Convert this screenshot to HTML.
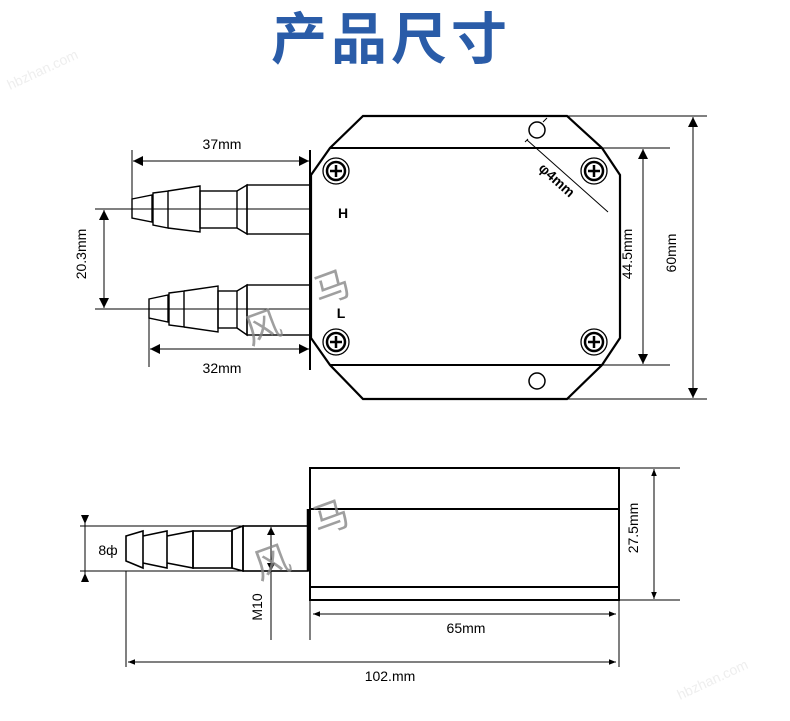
<!DOCTYPE html>
<html><head><meta charset="utf-8"><style>
html,body{margin:0;padding:0;background:#fff;}
svg{display:block;}
text{font-family:"Liberation Sans","Noto Sans CJK SC",sans-serif;}
</style></head><body>
<svg width="790" height="721" viewBox="0 0 790 721" xmlns="http://www.w3.org/2000/svg">
<defs>
<marker id="a" viewBox="0 0 10 10" refX="10" refY="5" markerWidth="10" markerHeight="10" markerUnits="userSpaceOnUse" orient="auto-start-reverse"><path d="M0,0 L10,5 L0,10 z" fill="#000"/></marker>
<marker id="s" viewBox="0 0 10 10" refX="10" refY="5" markerWidth="7" markerHeight="7" markerUnits="userSpaceOnUse" orient="auto-start-reverse"><path d="M0,1 L10,5 L0,9 z" fill="#000"/></marker>
</defs>
<text x="391" y="59" font-size="56" font-weight="bold" fill="#2a5ca8" text-anchor="middle" letter-spacing="4" font-family="Noto Sans CJK SC, sans-serif">产品尺寸</text>

<!-- watermarks -->
<g fill="#eee" font-size="14" font-family="Liberation Sans,sans-serif">
<text x="10" y="90" transform="rotate(-25 10 90)">hbzhan.com</text>
<text x="680" y="700" transform="rotate(-25 680 700)">hbzhan.com</text>
</g>

<g stroke="#000" fill="none">
<!-- top view body -->
<path d="M363,116 L567,116 L602,148 L620,175 L620,338 L602,365 L567,399 L363,399 L330,365 L311,338 L311,175 L330,148 Z" stroke-width="2.2"/>
<line x1="330" y1="148" x2="602" y2="148" stroke-width="2"/>
<line x1="330" y1="365" x2="602" y2="365" stroke-width="2"/>
<g stroke-width="1.3">
<circle cx="336" cy="171" r="13"/><circle cx="594" cy="171" r="13"/>
<circle cx="336" cy="342" r="13"/><circle cx="594" cy="342" r="13"/>
</g>
<g stroke-width="2.5">
<circle cx="336" cy="171" r="9"/><circle cx="594" cy="171" r="9"/>
<circle cx="336" cy="342" r="9"/><circle cx="594" cy="342" r="9"/>
<path d="M330,171h12M336,165v12M588,171h12M594,165v12M330,342h12M336,336v12M588,342h12M594,336v12"/>
</g>
<circle cx="537" cy="130" r="8" stroke-width="1.5"/>
<circle cx="537" cy="381" r="8" stroke-width="1.5"/>
<line x1="527" y1="140" x2="608" y2="212" stroke-width="1"/>
<path d="M543,122 l4,-4 M528,139 l-3,3" stroke-width="1"/>

<!-- 44.5 / 60 dims -->
<g stroke-width="1">
<line x1="602" y1="148" x2="670" y2="148"/><line x1="602" y1="365" x2="670" y2="365"/>
<line x1="567" y1="116" x2="707" y2="116"/><line x1="567" y1="399" x2="707" y2="399"/>
<line x1="643" y1="149" x2="643" y2="364" marker-start="url(#a)" marker-end="url(#a)"/>
<line x1="693" y1="117" x2="693" y2="398" marker-start="url(#a)" marker-end="url(#a)"/>
</g>

<!-- top fitting H -->
<g stroke-width="1.4">
<path d="M132,199 L152,195 L152,222 L132,218 Z"/>
<path d="M153,193 L168,191 L168,228 L153,225 Z"/>
<path d="M168,191 L200,186 L200,232 L168,228"/>
<rect x="200" y="191" width="37" height="37"/>
<path d="M237,191 L247,185 L247,234 L237,228"/>
<rect x="247" y="185" width="63" height="49"/>
</g>
<line x1="310" y1="150" x2="310" y2="370" stroke-width="2"/>
<!-- bottom fitting L -->
<g stroke-width="1.4">
<path d="M149,299 L168,295 L168,322 L149,318 Z"/>
<path d="M169,293 L184,291 L184,327 L169,325 Z"/>
<path d="M184,291 L218,286 L218,332 L184,327"/>
<rect x="218" y="291" width="19" height="37"/>
<path d="M237,291 L247,285 L247,335 L237,328"/>
<rect x="247" y="285" width="63" height="50"/>
</g>
<g stroke-width="1">
<line x1="95" y1="209" x2="310" y2="209"/>
<line x1="95" y1="309" x2="310" y2="309"/>
<line x1="104" y1="210" x2="104" y2="308" marker-start="url(#a)" marker-end="url(#a)"/>
<line x1="132" y1="150" x2="132" y2="218"/>
<line x1="133" y1="161" x2="309" y2="161" marker-start="url(#a)" marker-end="url(#a)"/>
<line x1="149" y1="299" x2="149" y2="367"/>
<line x1="150" y1="349" x2="309" y2="349" marker-start="url(#a)" marker-end="url(#a)"/>
</g>

<!-- side view -->
<rect x="310" y="468" width="309" height="132" stroke-width="2"/>
<line x1="310" y1="509" x2="619" y2="509" stroke-width="2"/>
<line x1="310" y1="587" x2="619" y2="587" stroke-width="2"/>
<g stroke-width="1.6">
<path d="M126,536 L143,531 L143,568 L126,561 Z"/>
<path d="M143,536 L167,531 L167,568 L143,563"/>
<path d="M167,536 L193,531 L193,568 L167,563"/>
<rect x="193" y="531" width="39" height="37"/>
<path d="M232,530 L243,526 L243,571 L232,568 Z"/>
<rect x="243" y="526" width="65" height="45"/>
</g>
<line x1="308" y1="509" x2="308" y2="571" stroke-width="2.5"/>
<g stroke-width="1">
<line x1="80" y1="526" x2="243" y2="526"/><line x1="80" y1="571" x2="243" y2="571"/>
<line x1="85" y1="515" x2="85" y2="582"/>
<path d="M81,515 L89,515 L85,524 Z M81,582 L89,582 L85,573 Z" fill="#000" stroke="none"/>
<line x1="271" y1="527" x2="271" y2="640" />
<path d="M267,535 L275,535 L271,527 Z M267,563 L275,563 L271,571 Z" fill="#000" stroke="none"/>
<line x1="310" y1="600" x2="310" y2="640"/>
<line x1="619" y1="600" x2="619" y2="667"/>
<line x1="126" y1="571" x2="126" y2="667"/>
<line x1="313" y1="614" x2="616" y2="614" marker-start="url(#s)" marker-end="url(#s)"/>
<line x1="128" y1="662" x2="616" y2="662" marker-start="url(#s)" marker-end="url(#s)"/>
<line x1="619" y1="468" x2="680" y2="468"/><line x1="619" y1="600" x2="680" y2="600"/>
<line x1="654" y1="469" x2="654" y2="599" marker-start="url(#s)" marker-end="url(#s)"/>
</g>
</g>

<!-- labels -->
<g font-size="14" fill="#000">
<text x="222" y="149" text-anchor="middle">37mm</text>
<text x="222" y="373" text-anchor="middle">32mm</text>
<text x="91" y="259" text-anchor="middle" transform="rotate(-90 86 259)">20.3mm</text>
<text x="343" y="218" font-weight="bold" text-anchor="middle">H</text>
<text x="341" y="318" font-weight="bold" text-anchor="middle">L</text>
<text x="557" y="185" font-weight="bold" text-anchor="middle" transform="rotate(42 557 180)">φ4mm</text>
<text x="637" y="259" text-anchor="middle" transform="rotate(-90 632 259)">44.5mm</text>
<text x="681" y="258" text-anchor="middle" transform="rotate(-90 676 258)">60mm</text>
<text x="108" y="555" text-anchor="middle">8ф</text>
<text x="267" y="612" text-anchor="middle" transform="rotate(-90 262 612)">M10</text>
<text x="466" y="633" text-anchor="middle">65mm</text>
<text x="390" y="681" text-anchor="middle">102.mm</text>
<text x="643" y="533" text-anchor="middle" transform="rotate(-90 638 533)">27.5mm</text>
</g>
<g fill="#888" opacity="0.8" font-size="36" font-family="Noto Sans CJK SC,sans-serif">
<text x="262" y="340" transform="rotate(-20 262 325)" text-anchor="middle">风</text>
<text x="331" y="300" transform="rotate(-20 331 285)" text-anchor="middle">马</text>
<text x="271" y="575" transform="rotate(-20 271 560)" text-anchor="middle">风</text>
<text x="330" y="530" transform="rotate(-20 330 515)" text-anchor="middle">马</text>
</g>
</svg>
</body></html>
